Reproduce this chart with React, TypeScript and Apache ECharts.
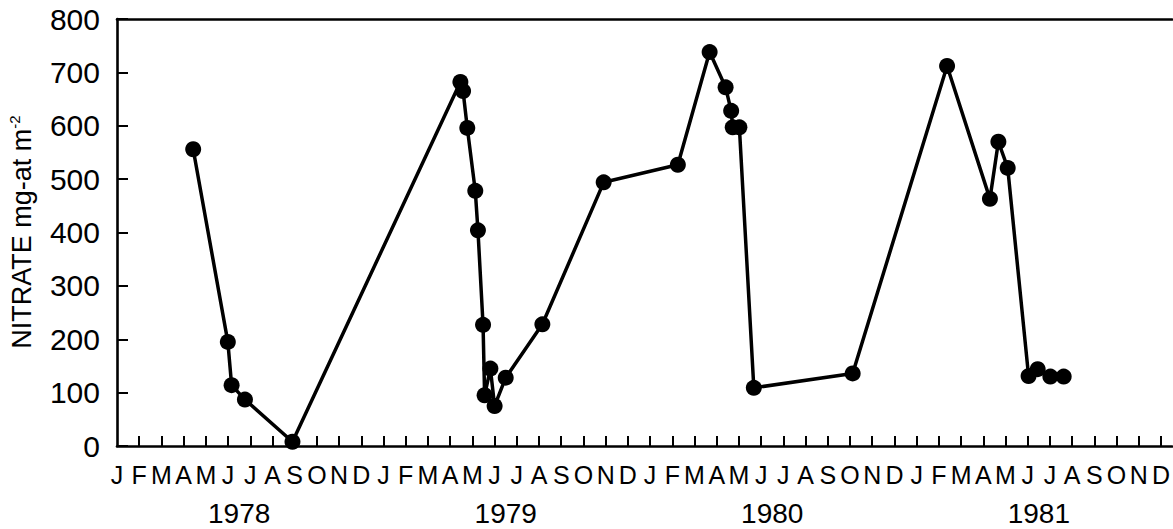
import React, { useEffect, useRef } from "react";
import * as echarts from "echarts";

// Sampling time in months since 1 January 1978, and nitrate in mg-at m^-2
const sampleMonth = [
  3.43, 4.99, 5.16, 5.76, 7.9,
  15.46, 15.58, 15.77, 16.13, 16.25, 16.48, 16.55, 16.81, 17.0, 17.5,
  19.15, 21.91, 25.25, 26.68, 27.4, 27.65, 27.72, 28.02, 28.67,
  33.12, 37.37, 39.3, 39.68, 40.1, 41.04, 41.45, 42.02, 42.62,
];
const nitrate = [
  556, 195, 114, 87, 8,
  682, 665, 596, 478, 404, 227, 95, 145, 75, 128,
  228, 494, 527, 738, 672, 628, 597, 597, 109,
  136, 712, 463, 570, 521, 131, 144, 130, 130,
];

const monthLetters = ["J", "F", "M", "A", "M", "J", "J", "A", "S", "O", "N", "D"];
const years = ["1978", "1979", "1980", "1981"];
const yTicks = [0, 100, 200, 300, 400, 500, 600, 700, 800];

const FONT = "'Liberation Sans', Arial, Helvetica, sans-serif";
const monthIdx = Array.from({ length: 48 }, (_, i) => i);
const yearCenters = years.map((_, i) => i * 12 + 5.5);

export default function App() {
  const ref = useRef<HTMLDivElement>(null);

  useEffect(() => {
    document.body.style.margin = "0";
    const chart = echarts.init(ref.current!, null, { renderer: "svg" });
    const xRange = { min: 0, max: 47.5 };
    chart.setOption({
      animation: false,
      backgroundColor: "#ffffff",
      grid: { left: 117, right: 0, top: 19, bottom: 83 },
      xAxis: [
        {
          type: "value",
          ...xRange,
          position: "bottom",
          axisLine: { show: true, onZero: false, lineStyle: { color: "#000", width: 2.6 } },
          axisTick: {
            show: true,
            inside: true,
            length: 10,
            customValues: monthIdx.slice(1),
            lineStyle: { color: "#000", width: 2 },
          },
          axisLabel: {
            customValues: monthIdx,
            formatter: (v: number) => monthLetters[Math.round(v) % 12],
            color: "#000",
            fontSize: 25,
            fontFamily: FONT,
            margin: 16,
          },
          splitLine: { show: false },
        },
        {
          type: "value",
          ...xRange,
          position: "bottom",
          axisLine: { show: false },
          axisTick: { show: false },
          axisLabel: {
            customValues: yearCenters,
            formatter: (v: number) => years[Math.round((v - 5.5) / 12)],
            color: "#000",
            fontSize: 28,
            fontFamily: FONT,
            margin: 53,
          },
          splitLine: { show: false },
        },
        {
          type: "value",
          ...xRange,
          position: "top",
          axisLine: { show: true, onZero: false, lineStyle: { color: "#000", width: 2.6 } },
          axisTick: { show: false },
          axisLabel: { show: false },
          splitLine: { show: false },
        },
      ],
      yAxis: {
        type: "value",
        min: yTicks[0],
        max: yTicks[yTicks.length - 1],
        interval: 100,
        axisLine: { show: true, lineStyle: { color: "#000", width: 2.6 } },
        axisTick: { show: true, inside: true, length: 11, lineStyle: { color: "#000", width: 2 } },
        axisLabel: { color: "#000", fontSize: 30, fontFamily: FONT, margin: 17 },
        splitLine: { show: false },
      },
      graphic: [
        {
          type: "text",
          x: 22,
          y: 232,
          rotation: Math.PI / 2,
          style: {
            text: "{a|NITRATE mg-at m}{b|-2}",
            align: "center",
            verticalAlign: "middle",
            fill: "#000",
            rich: {
              a: { fontSize: 27, fontFamily: FONT, lineHeight: 30, fill: "#000" },
              b: { fontSize: 15, fontFamily: FONT, lineHeight: 15, verticalAlign: "top", fill: "#000" },
            },
          },
        },
      ],
      series: [
        {
          type: "line",
          xAxisIndex: 0,
          data: sampleMonth.map((m, i) => [m, nitrate[i]]),
          symbol: "circle",
          symbolSize: 16,
          lineStyle: { color: "#000", width: 3.5 },
          itemStyle: { color: "#000" },
          z: 5,
        },
      ],
    });
    return () => chart.dispose();
  }, []);

  return <div ref={ref} style={{ width: 1173, height: 529 }} />;
}
